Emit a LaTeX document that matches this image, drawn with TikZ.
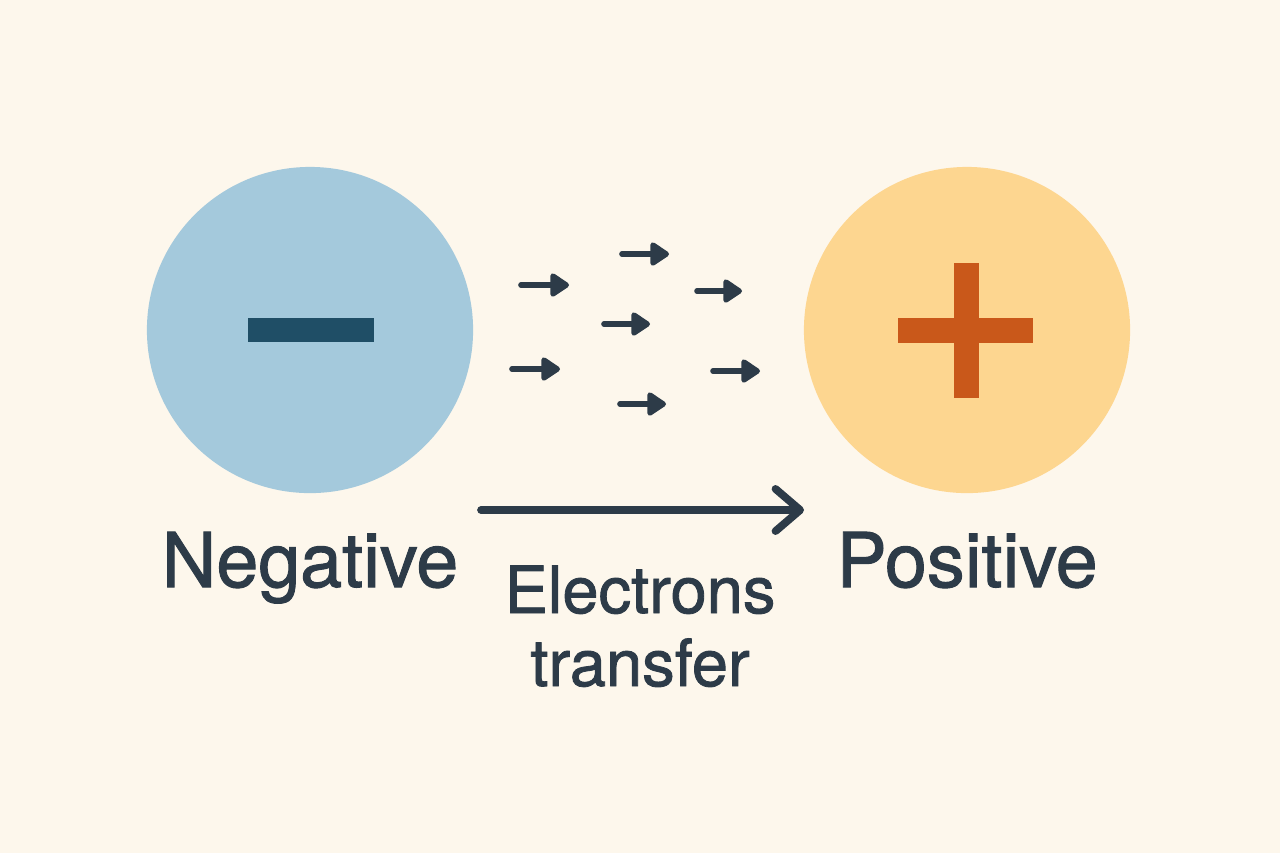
\documentclass[tikz,border=0pt]{standalone}
\usepackage{fontspec}
\setmainfont{TeX Gyre Heros}[FakeBold=1.3]
\usepackage{xcolor}
\usetikzlibrary{arrows.meta, positioning, calc}

\definecolor{bgcream}{HTML}{FDF7EC}
\definecolor{negblue}{HTML}{A4C9DC}
\definecolor{minusteal}{HTML}{1F4E66}
\definecolor{posyellow}{HTML}{FDD690}
\definecolor{plusorange}{HTML}{C9581A}
\definecolor{inkslate}{HTML}{2D3B48}

\tikzset{
    charge/.style={circle, minimum size=3.26cm, inner sep=0pt},
    caption/.style={text=inkslate, font=\fontsize{21.5}{24}\selectfont, anchor=base},
    subcaption/.style={caption, font=\fontsize{18.5}{21}\selectfont},
    electron/.style={-{Triangle[length=6pt, width=7.5pt, round]}, line width=1.6pt, line cap=round, inkslate},
    transfer/.style={-{Straight Barb[length=7pt, width=12pt, round]}, line width=2.2pt, line cap=round, inkslate},
}

\begin{document}
\begin{tikzpicture}[x=0.01cm, y=-0.01cm]
    \fill[bgcream] (0,0) rectangle (1280,853);
    \useasboundingbox (0,0) rectangle (1280,853);

    % the two charged bodies
    \node[charge, fill=negblue] (neg) at (310,330) {};
    \node[charge, fill=posyellow] (pos) at (967,330) {};
    \fill[minusteal] (248,318) rectangle (374,342);
    \fill[plusorange] (898,318) rectangle (1033,343);
    \fill[plusorange] (954,263) rectangle (979,398);

    % labels
    \node[caption] (neglabel) at (310,587) {Negative};
    \node[caption] (poslabel) at (967,587) {Positive};
    \node[subcaption] (eltext) at (640,613) {Electrons};
    \node[subcaption] (trtext) at (640,686) {transfer};

    % drifting electrons
    \foreach \i/\xa/\xb/\yy in {1/521/569/285, 2/622/669/254, 3/697/742/291, 4/604/650/324,
                                5/512/560/369, 6/713/760/371, 7/620/666/404} {
        \coordinate (e\i s) at (\xa,\yy);
        \coordinate (e\i t) at (\xb,\yy);
        \draw[electron] (e\i s) -- (e\i t);
    }

    % main transfer arrow
    \coordinate (trstart) at (481,510);
    \coordinate (trend) at (804,510);
    \draw[transfer] (trstart) -- (trend);
\end{tikzpicture}
\end{document}
